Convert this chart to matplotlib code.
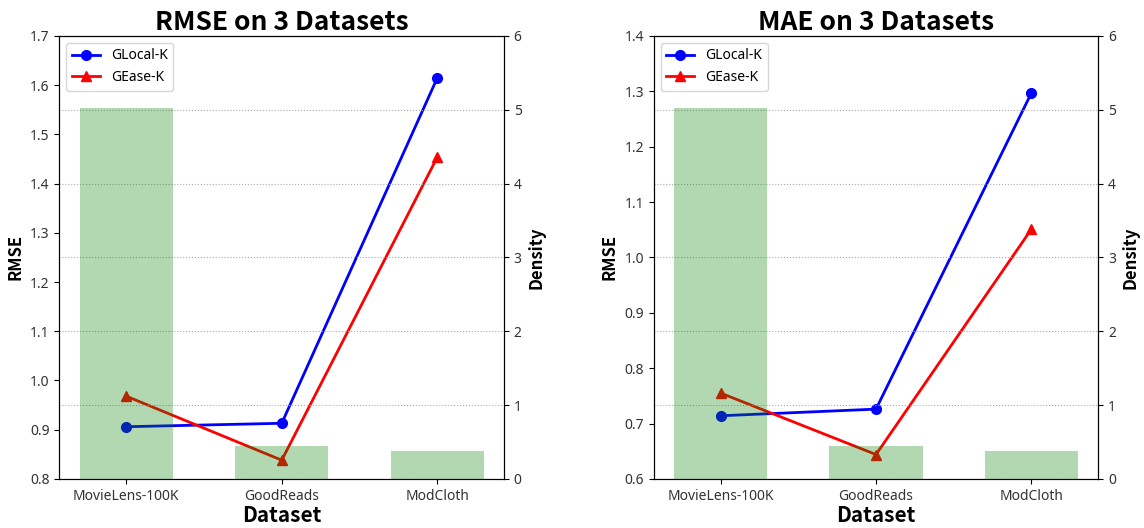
import matplotlib
matplotlib.use('Agg')

import matplotlib.pyplot as plt

plt.rcParams['font.family'] = ['Noto Sans', 'DejaVu Sans']
BOLD = ['Noto Sans CJK KR', 'DejaVu Sans']

datasets = ['MovieLens-100K', 'GoodReads', 'ModCloth']
density = [5.03, 0.45, 0.38]

rmse_glocal = [0.906, 0.913, 1.614]
rmse_gease = [0.968, 0.838, 1.453]

mae_glocal = [0.714, 0.726, 1.297]
mae_gease = [0.755, 0.644, 1.051]

fig, axes = plt.subplots(1, 2, figsize=(11.44, 5.28), dpi=100)

panels = [
    ('RMSE on 3 Datasets', rmse_glocal, rmse_gease, (0.8, 1.7)),
    ('MAE on 3 Datasets', mae_glocal, mae_gease, (0.6, 1.4)),
]

for ax, (title, glocal, gease, ylim) in zip(axes, panels):
    x = range(len(datasets))
    ax.plot(x, glocal, color='blue', marker='o', linewidth=2, markersize=7, label='GLocal-K')
    ax.plot(x, gease, color='red', marker='^', linewidth=2, markersize=7, label='GEase-K')
    ax.set_ylim(*ylim)
    ax.set_xticks(list(x))
    ax.set_xticklabels(datasets, fontsize=10, color='#333333')
    ax.tick_params(axis='y', labelsize=10, labelcolor='#333333')
    ax.set_xlabel('Dataset', fontsize=15, fontweight='bold', family=BOLD, labelpad=1)
    ax.set_ylabel('RMSE', fontsize=12, fontweight='bold', family=BOLD)
    ax.set_title(title, fontsize=19, fontweight='bold', family=BOLD, pad=4)
    ax.legend(loc='upper left', fontsize=10)

    # density bars on the twin axis, drawn over the lines
    ax2 = ax.twinx()
    ax2.bar(x, density, width=0.6, color='green', alpha=0.3)
    ax2.set_ylim(0, 6)
    ax2.tick_params(axis='y', labelsize=10, labelcolor='#333333')
    ax2.set_ylabel('Density', fontsize=12, fontweight='bold', family=BOLD)
    ax2.grid(axis='y', linestyle=':', color='#aaaaaa')
    ax2.set_axisbelow(True)

plt.subplots_adjust(left=0.052, right=0.96, top=0.932, bottom=0.093, wspace=0.337)
plt.savefig('out.png')
